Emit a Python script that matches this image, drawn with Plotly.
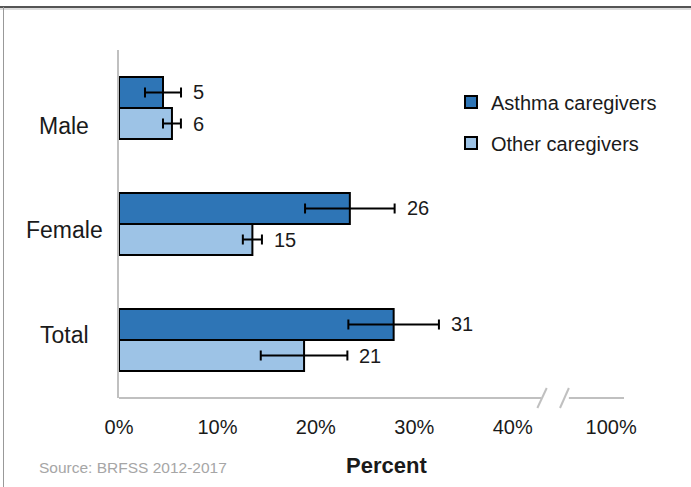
import plotly.graph_objects as go

categories = ["Male", "Female", "Total"]
series_names = ["Asthma caregivers", "Other caregivers"]
asthma_vals = [4.47, 23.45, 27.9]
other_vals = [5.38, 13.55, 18.8]
asthma_err = [1.83, 4.55, 4.6]
other_err = [0.91, 0.97, 4.4]
asthma_labels = ["5", "26", "31"]
other_labels = ["6", "15", "21"]
tick_vals = [0, 10, 20, 30, 40, 50]
tick_text = ["0%", "10%", "20%", "30%", "40%", "100%"]

FONT = "Liberation Sans"
DARK = "#2E75B6"
LIGHT = "#9DC3E6"
TXT = "#1a1a1a"
AX = "#C0C0C0"

fig = go.Figure()
for name, vals, errs, col, leg in [
    (series_names[0], asthma_vals, asthma_err, DARK, "legend"),
    (series_names[1], other_vals, other_err, LIGHT, "legend2"),
]:
    fig.add_trace(go.Bar(
        y=categories, x=vals, orientation="h", name=name,
        marker=dict(color=col, line=dict(color="black", width=2)),
        error_x=dict(type="data", array=errs, visible=True, color="black",
                     thickness=2, width=5),
        legend=leg,
    ))

annotations = []
for vals, errs, labels, ys in [
    (asthma_vals, asthma_err, asthma_labels, 16),
    (other_vals, other_err, other_labels, -16),
]:
    for c, v, e, t in zip(categories, vals, errs, labels):
        annotations.append(dict(x=v + e, y=c, text=t, showarrow=False,
                                xanchor="left", xshift=10, yshift=ys,
                                font=dict(family=FONT, size=20, color=TXT)))

# category labels (centred, on their own label scale as in the original)
for i, c in enumerate(categories):
    annotations.append(dict(xref="paper", yref="y2", x=(64 - 119) / 505, y=i, text=c,
                            showarrow=False, xanchor="center", yanchor="middle",
                            font=dict(family=FONT, size=23, color=TXT)))

annotations.append(dict(xref="paper", yref="paper", x=(386 - 119) / 505, y=-(465 - 398) / 348,
                        text="<b>Percent</b>", showarrow=False, xanchor="center", yanchor="middle",
                        font=dict(family=FONT, size=22, color=TXT)))
annotations.append(dict(xref="paper", yref="paper", x=(37 - 119) / 505, y=-(467 - 398) / 348,
                        text="Source: BRFSS 2012-2017", showarrow=False, xanchor="left", yanchor="middle",
                        font=dict(family=FONT, size=15.5, color="#A6A6A6")))

shapes = [
    # bottom axis with break
    dict(type="line", xref="x", yref="paper", x0=0, x1=42.9, y0=0, y1=0, line=dict(color=AX, width=2)),
    dict(type="line", xref="x", yref="paper", x0=42.5, x1=43.45, y0=-0.0287, y1=0.0287, line=dict(color=AX, width=2)),
    dict(type="line", xref="x", yref="paper", x0=44.8, x1=45.7, y0=-0.0287, y1=0.0287, line=dict(color=AX, width=2)),
    dict(type="line", xref="x", yref="paper", x0=45.7, x1=51.3, y0=0, y1=0, line=dict(color=AX, width=2)),
    # outer frame
    dict(type="line", xref="paper", yref="paper", x0=(0 - 119) / 505, x1=(691 - 119) / 505,
         y0=(398 - 7) / 348, y1=(398 - 7) / 348, line=dict(color="#555555", width=2)),
    dict(type="line", xref="paper", yref="paper", x0=(0 - 119) / 505, x1=(691 - 119) / 505,
         y0=(398 - 9) / 348, y1=(398 - 9) / 348, line=dict(color="#DDDDDD", width=2)),
    dict(type="line", xref="paper", yref="paper", x0=(3.5 - 119) / 505, x1=(3.5 - 119) / 505,
         y0=(398 - 7) / 348, y1=(398 - 487) / 348, line=dict(color="#999999", width=1)),
]

fig.update_layout(
    width=691, height=487,
    margin=dict(l=119, r=67, t=50, b=89),
    paper_bgcolor="white", plot_bgcolor="white",
    barmode="group", bargap=0.466, bargroupgap=0,
    font=dict(family=FONT, color=TXT),
    xaxis=dict(range=[0, 51.3], tickvals=tick_vals, ticktext=tick_text, showgrid=False,
               zeroline=False, showline=False, ticks="outside", ticklen=11,
               tickcolor="rgba(0,0,0,0)", tickfont=dict(family=FONT, size=20, color=TXT)),
    yaxis=dict(type="category", categoryorder="array", categoryarray=categories,
               range=[2.5, -0.5], showgrid=False, zeroline=False, showline=True,
               linecolor=AX, linewidth=2, showticklabels=False, ticks=""),
    yaxis2=dict(overlaying="y", range=[2.603, -0.727], visible=False, fixedrange=True),
    legend=dict(x=(451 - 119) / 505, y=(398 - 102) / 348, xanchor="left", yanchor="middle",
                bgcolor="rgba(0,0,0,0)", font=dict(family=FONT, size=20, color=TXT)),
    legend2=dict(x=(451 - 119) / 505, y=(398 - 143) / 348, xanchor="left", yanchor="middle",
                 bgcolor="rgba(0,0,0,0)", font=dict(family=FONT, size=20, color=TXT)),
    annotations=annotations,
    shapes=shapes,
    showlegend=True,
)

fig.write_html("out.html", post_script="document.body.style.margin='0';",
               config={"displayModeBar": False})
